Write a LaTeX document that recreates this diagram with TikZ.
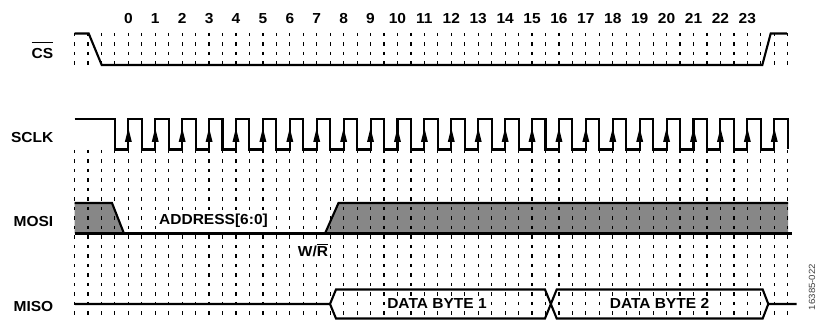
\documentclass[tikz,border=0pt]{standalone}
\usepackage{fontspec}
\setmainfont{Liberation Sans}[FakeStretch=1.07]
\definecolor{mosigray}{RGB}{135,135,135}
\newcommand\ovlbar[2]{\setbox0\hbox{#2}\rlap{\rule[#1]{\wd0}{1.2pt}}\box0}
\begin{document}
\begin{tikzpicture}[x=1pt,y=-1pt,
  wave/.style={line width=2.1pt, line join=miter},
  gridline/.style={line width=1.2pt, dash pattern=on 3.5pt off 6pt},
  lbl/.style={font=\fontsize{14.5}{17}\selectfont\bfseries, inner sep=0pt},
  boxlbl/.style={lbl, fill=white, inner xsep=2pt, inner ysep=1pt},
  num/.style={font=\fontsize{14.5}{17}\selectfont\bfseries, inner sep=0pt},
  figid/.style={font=\fontsize{9}{10}\selectfont, text=black!75, inner sep=0pt}]
\useasboundingbox (0,0) rectangle (817,320);
\def\xo{74.5}
\def\sp{13.457}
% MOSI gray regions
\fill[mosigray] (74.5,203) -- (112,203) -- (124,233.5) -- (74.5,233.5) -- cycle;
\fill[mosigray] (325,233.5) -- (338.5,203) -- (788,203) -- (788,233.5) -- cycle;
% grid
\foreach \k in {0,...,53}{
  \draw[gridline] ({\xo+\sp*\k},33) -- ({\xo+\sp*\k},65);
  \draw[gridline] ({\xo+\sp*\k},150) -- ({\xo+\sp*\k},320);
}
% bit numbers
\foreach \n in {0,...,23}{
  \node[num, anchor=base] (n\n) at ({\xo+\sp*(4+2*\n)},23.3) {\n};
}
% CS
\draw[wave] (74.5,33.5) -- (88.7,33.5) -- (101.7,65) -- (762.3,65) -- (770.7,33.5) -- (786.9,33.5);
% SCLK
\draw[wave] (74.5,119) -- ({\xo+3*\sp},119) -- ({\xo+3*\sp},149.5)
  \foreach \n in {0,...,24}{
    -- ({\xo+(4+2*\n)*\sp},149.5) -- ({\xo+(4+2*\n)*\sp},119)
    -- ({\xo+(5+2*\n)*\sp},119) -- ({\xo+(5+2*\n)*\sp},149.5)
  };
\foreach \n in {0,...,24}{
  \fill ({\xo+(4+2*\n)*\sp},128) -- ++(-3.5,14) -- ++(7,0) -- cycle;
}
% MOSI
\draw[wave] (74.5,203) -- (112,203) -- (124,233.5);
\draw[wave] (74.5,233.5) -- (792,233.5);
\draw[wave] (325,233.5) -- (338.5,203) -- (788,203);
% MISO
\draw[wave] (75,304) -- (330,304) -- (336,289.5) -- (545,289.5) -- (556.7,318.5)
  -- (762.7,318.5) -- (768.3,304) -- (796.7,304);
\draw[wave] (330,304) -- (336,318.5) -- (545,318.5) -- (556.7,289.5)
  -- (762.7,289.5) -- (768.3,304);
% signal names
\node[lbl, anchor=base east] (cs) at (53.5,58.3) {\ovlbar{15pt}{CS}};
\node[lbl, anchor=base east] (sclk) at (53.5,142.7) {SCLK};
\node[lbl, anchor=base east] (mosi) at (53.5,227) {MOSI};
\node[lbl, anchor=base east] (miso) at (53.5,311.7) {MISO};
% field labels
\node[boxlbl, anchor=base] (addr) at (213.5,224.5) {ADDRESS[6:0]};
\node[boxlbl, anchor=base] (wr) at (313,256.7) {W/\ovlbar{11.8pt}{R}};
\node[boxlbl, anchor=base] (db1) at (437,309) {DATA BYTE 1};
\node[boxlbl, anchor=base] (db2) at (659.5,309) {DATA BYTE 2};
\node[figid, rotate=90] (fid) at (812,287) {16385-022};
\end{tikzpicture}
\end{document}
